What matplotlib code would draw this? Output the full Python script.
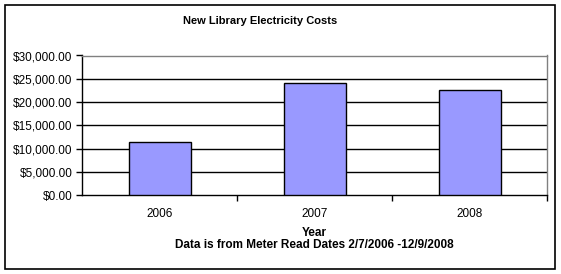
import matplotlib.pyplot as plt
from matplotlib.patches import Rectangle
from matplotlib.ticker import FuncFormatter, FixedLocator

years = ["2006", "2007", "2008"]
costs = [11350, 24000, 22500]
y_ticks = [0, 5000, 10000, 15000, 20000, 25000, 30000]

W, H = 561, 274
plt.rcParams["font.family"] = ["Liberation Sans", "DejaVu Sans"]

fig = plt.figure(figsize=(W / 100, H / 100), dpi=100)
fig.patch.set_facecolor("white")


def px(x, y):
    # pixel coords (top-left origin) -> figure fraction
    return x / W, 1 - y / H


# outer chart border
fig.patches.append(Rectangle((5 / W, 1 - 269 / H), 550 / W, 264 / H, transform=fig.transFigure,
                             fill=False, edgecolor="black", linewidth=1.2))

left, top, right, bottom = 82, 55.5, 547, 195.3
ax = fig.add_axes([left / W, 1 - bottom / H, (right - left) / W, (bottom - top) / H])

x = range(len(years))
ax.bar(x, costs, width=0.4, color="#9999ff", edgecolor="black", linewidth=1, zorder=3)

ax.set_xlim(-0.5, 2.5)
ax.set_ylim(0, 30000)
ax.set_yticks(y_ticks)
ax.yaxis.set_major_formatter(FuncFormatter(lambda v, _: f"${v:,.2f}"))
for v in y_ticks[1:-1]:
    ax.axhline(v, color="black", linewidth=1, zorder=1)

ax.set_xticks(list(x))
ax.set_xticklabels(years)
ax.xaxis.set_minor_locator(FixedLocator([0.5, 1.5, 2.5]))
ax.tick_params(axis="x", which="major", length=0, pad=9, labelsize=8.5)
ax.tick_params(axis="x", which="minor", length=4, width=1, color="black", direction="out")
ax.tick_params(axis="y", length=4, width=1, pad=3, labelsize=8.5, direction="out")

ax.spines["left"].set_color("black")
ax.spines["bottom"].set_color("black")
ax.spines["top"].set_color("#808080")
ax.spines["right"].set_color("#808080")
for s in ax.spines.values():
    s.set_linewidth(1)

fig.text(*px(260, 21), "New Library Electricity Costs", ha="center", va="center",
         fontsize=8, fontweight="bold")
fig.text(*px(314, 233), "Year", ha="center", va="center", fontsize=8.5, fontweight="bold")
fig.text(*px(314, 245), "Data is from Meter Read Dates 2/7/2006 -12/9/2008", ha="center",
         va="center", fontsize=8.5, fontweight="bold")

fig.savefig("out.png", dpi=100, facecolor="white")
